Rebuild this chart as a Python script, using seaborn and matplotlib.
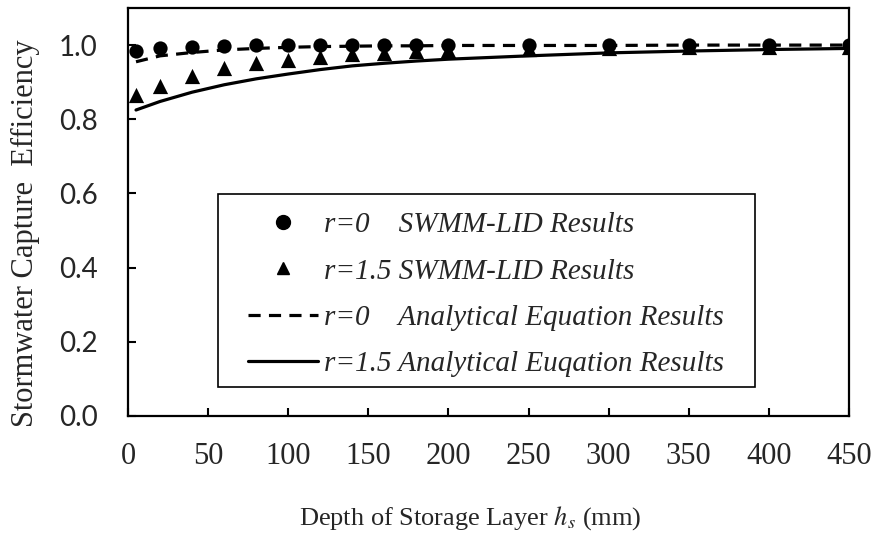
import matplotlib
matplotlib.use("Agg")
import matplotlib.pyplot as plt
import matplotlib.lines as mlines
from matplotlib.patches import Rectangle
import seaborn as sns
import pandas as pd

# storage layer depth (mm)
depth = [5, 20, 40, 60, 80, 100, 120, 140, 160, 180, 200, 250, 300, 350, 400, 450]

# SWMM-LID simulated capture efficiency
swmm_r0 = [0.984, 0.992, 0.996, 0.998, 0.999, 0.999, 0.999, 1.0, 1.0, 1.0,
           1.0, 1.0, 1.0, 1.0, 1.0, 1.0]
swmm_r15 = [0.865, 0.890, 0.917, 0.937, 0.951, 0.960, 0.969, 0.975, 0.980, 0.984,
            0.987, 0.990, 0.992, 0.994, 0.995, 0.996]

# analytical equation capture efficiency
anal_r0 = [0.955, 0.971, 0.980, 0.987, 0.991, 0.994, 0.996, 0.997, 0.998, 0.998,
           0.999, 0.999, 0.999, 1.0, 1.0, 1.0]
anal_r15 = [0.825, 0.848, 0.873, 0.893, 0.909, 0.922, 0.934, 0.944, 0.951, 0.957,
            0.962, 0.971, 0.979, 0.984, 0.988, 0.991]

labels = [
    "r=0    SWMM-LID Results",
    "r=1.5 SWMM-LID Results",
    "r=0    Analytical Equation Results",
    "r=1.5 Analytical Euqation Results",
]

x_ticks = [0, 50, 100, 150, 200, 250, 300, 350, 400, 450]
y_ticks = [0.0, 0.2, 0.4, 0.6, 0.8, 1.0]

sns.set_theme(style="white")
plt.rcParams["mathtext.fontset"] = "stix"

df = pd.DataFrame({
    "depth": depth,
    "swmm_r0": swmm_r0,
    "swmm_r15": swmm_r15,
    "anal_r0": anal_r0,
    "anal_r15": anal_r15,
})

W, H = 877, 538
fig = plt.figure(figsize=(W / 100, H / 100), dpi=100)
ax = fig.add_axes([128 / W, 1 - 416 / H, 721 / W, 408 / H])

lw = 2.3
dash = (3.8, 2.6)
sns.lineplot(data=df, x="depth", y="anal_r15", ax=ax, color="black", lw=lw, legend=False)
sns.lineplot(data=df, x="depth", y="anal_r0", ax=ax, color="black", lw=lw, legend=False)
ax.lines[1].set_dashes(dash)
sns.scatterplot(data=df, x="depth", y="swmm_r15", ax=ax, marker="^", s=120,
                color="black", edgecolor="black", linewidth=0, legend=False, zorder=3)
sns.scatterplot(data=df, x="depth", y="swmm_r0", ax=ax, marker="o", s=105,
                color="black", edgecolor="black", linewidth=0, legend=False, zorder=4)

ax.set_xlim(0, 450)
ax.set_ylim(0, 1.1)
ax.set_xticks(x_ticks)
ax.set_yticks(y_ticks)
ax.set_xticklabels([str(v) for v in x_ticks], family="Liberation Serif", fontsize=22)
ax.set_yticklabels([f"{v:.1f}" for v in y_ticks], family="Lato", fontsize=20)
ax.set_xlabel("")
ax.set_ylabel("")
ax.tick_params(axis="both", direction="in", length=6, width=1.5, color="black",
               bottom=True, left=True)
ax.tick_params(axis="x", pad=19)
ax.tick_params(axis="y", pad=22)
for sp in ax.spines.values():
    sp.set_color("black")
    sp.set_linewidth(1.6)
    sp.set_visible(True)

fig.text(25 / W, 1 - 233 / H, "Stormwater Capture  Efficiency", rotation=90,
         ha="center", va="center", family="Liberation Serif", fontsize=22)
fig.text(470 / W, 1 - 518 / H, "Depth of Storage Layer $h_s$ (mm)",
         ha="center", va="center", family="Liberation Serif", fontsize=19)

# legend frame
fig.patches.append(Rectangle((218 / W, 1 - 387 / H), (755 - 218) / W, (387 - 194) / H,
                             transform=fig.transFigure, facecolor="white",
                             edgecolor="black", linewidth=1.2, zorder=5))

handles = [
    mlines.Line2D([], [], color="black", marker="o", ms=10, linestyle="none"),
    mlines.Line2D([], [], color="black", marker="^", ms=9, linestyle="none"),
    mlines.Line2D([], [], color="black", lw=lw, dashes=dash),
    mlines.Line2D([], [], color="black", lw=lw),
]
leg = fig.legend(handles, labels, loc="upper left",
                 bbox_to_anchor=(248 / W, 1 - 212 / H),
                 prop={"family": "Liberation Serif", "style": "italic", "size": 21},
                 frameon=False, handlelength=2.4, handletextpad=0.2,
                 labelspacing=0.68, borderpad=0, borderaxespad=0)
leg.set_zorder(6)

fig.savefig("out.png", dpi=100)
